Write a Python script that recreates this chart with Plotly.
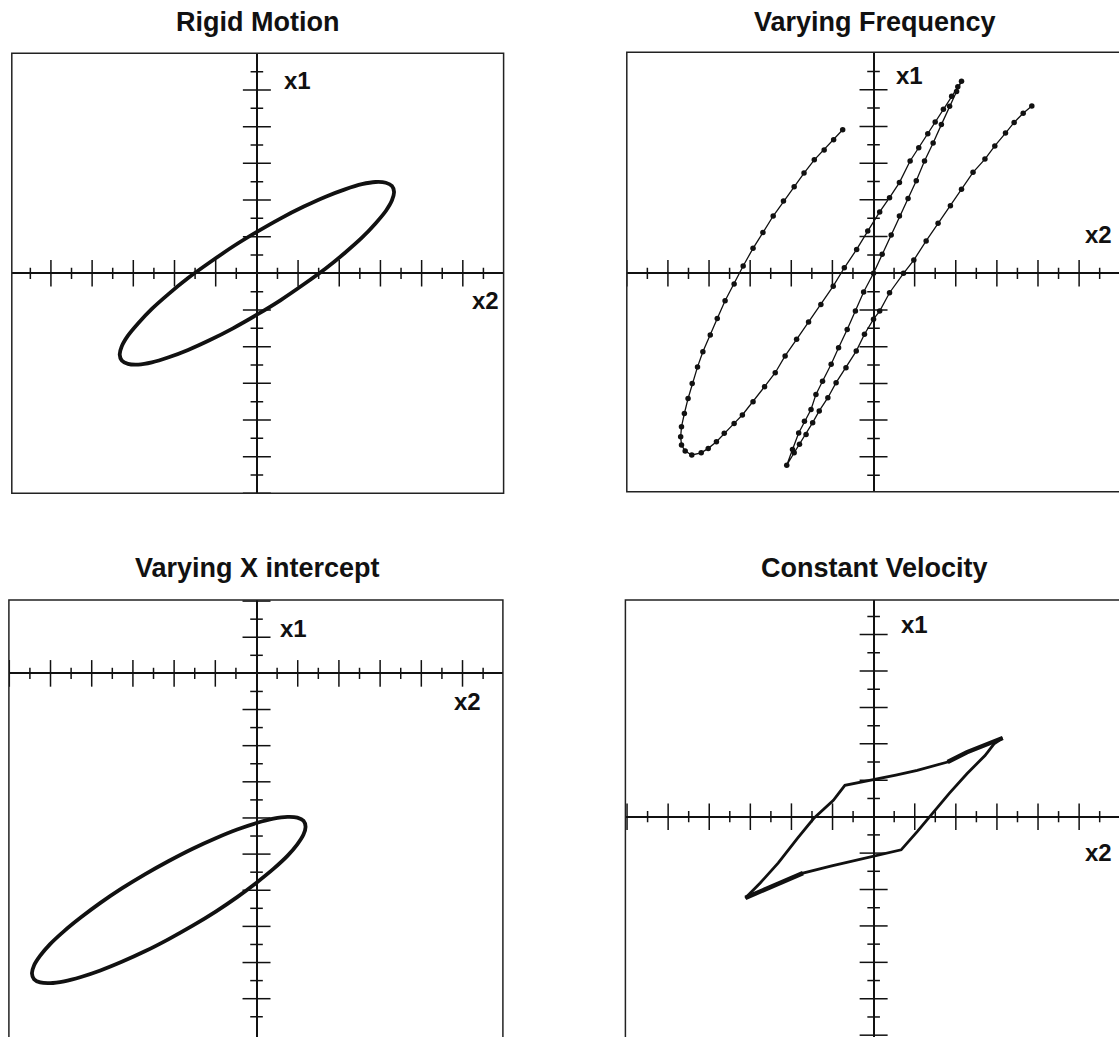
import plotly.graph_objects as go

# Phase plots: x2 on the horizontal axis, x1 on the vertical axis
titles = ["Rigid Motion", "Varying Frequency", "Varying X intercept", "Constant Velocity"]

# Rigid Motion - tilted ellipse centred on the origin
rigid_x2 = [3.33, 3.28, 3.13, 2.88, 2.55, 2.14, 1.67, 1.14, 0.58, 0.00, -0.58, -1.14,
            -1.67, -2.14, -2.55, -2.88, -3.13, -3.28, -3.33, -3.28, -3.13, -2.88, -2.55, -2.14,
            -1.67, -1.14, -0.58, 0.00, 0.58, 1.14, 1.67, 2.14, 2.55, 2.88, 3.13, 3.28, 3.33]
rigid_x1 = [2.22, 2.38, 2.47, 2.49, 2.43, 2.29, 2.09, 1.82, 1.50, 1.13, 0.73, 0.30,
            -0.13, -0.56, -0.97, -1.36, -1.70, -1.99, -2.22, -2.38, -2.47, -2.49, -2.43, -2.29,
            -2.09, -1.82, -1.50, -1.13, -0.73, -0.30, 0.13, 0.56, 0.97, 1.36, 1.70, 1.99, 2.22]

# Varying Frequency - left loop, line through the origin, right branch
freq_x2 = [-0.75, -0.97, -1.20, -1.44, -1.69, -1.93, -2.19, -2.44, -2.69, -2.93,
           -3.17, -3.39, -3.61, -3.80, -3.97, -4.15, -4.28, -4.41, -4.51, -4.60,
           -4.67, -4.69, -4.67, -4.58, -4.42, -4.19, -4.02, -3.82, -3.63, -3.39,
           -3.19, -2.93, -2.65, -2.39, -2.15, -1.87, -1.58, -1.28, -0.98, -0.71,
           -0.41, -0.14, 0.15, 0.39, 0.63, 0.89, 1.10, 1.32, 1.50, 1.70,
           1.90, 2.05, 2.14,
           2.02, 1.85, 1.65, 1.45, 1.24, 1.04, 0.84, 0.63, 0.43, 0.21,
           0.00, -0.24, -0.44, -0.64, -0.85, -1.03, -1.24, -1.40, -1.52, -1.68,
           -1.82, -1.97, -2.11,
           -1.93, -1.80, -1.64, -1.48, -1.32, -1.11, -0.91, -0.67, -0.42, -0.22,
           0.00, 0.15, 0.39, 0.73, 0.98, 1.28, 1.57, 1.87, 2.14, 2.42,
           2.71, 2.95, 3.21, 3.42, 3.64, 3.85]
freq_x1 = [3.91, 3.64, 3.36, 3.09, 2.73, 2.36, 1.97, 1.56, 1.11, 0.68,
           0.20, -0.29, -0.75, -1.23, -1.68, -2.14, -2.55, -3.00, -3.41, -3.82,
           -4.18, -4.45, -4.68, -4.84, -4.95, -4.89, -4.77, -4.59, -4.36, -4.09,
           -3.86, -3.50, -3.09, -2.71, -2.25, -1.80, -1.33, -0.85, -0.35, 0.15,
           0.65, 1.15, 1.67, 2.06, 2.47, 3.06, 3.42, 3.80, 4.12, 4.47,
           4.82, 5.08, 5.23,
           4.95, 4.55, 4.05, 3.55, 3.06, 2.52, 2.04, 1.56, 1.04, 0.52,
           0.00, -0.51, -1.03, -1.53, -2.03, -2.48, -2.94, -3.30, -3.71, -4.03,
           -4.35, -4.80, -5.23,
           -4.89, -4.66, -4.39, -4.07, -3.75, -3.39, -2.98, -2.57, -2.12, -1.66,
           -1.25, -1.03, -0.53, 0.00, 0.36, 0.88, 1.36, 1.84, 2.29, 2.75,
           3.11, 3.47, 3.82, 4.11, 4.36, 4.56]

# Varying X intercept - same ellipse shifted down and left
xint_x2 = [1.19, 1.14, 0.99, 0.75, 0.41, 0.00, -0.47, -0.99, -1.55, -2.13, -2.71, -3.27,
           -3.79, -4.26, -4.67, -5.01, -5.25, -5.40, -5.45, -5.40, -5.25, -5.01, -4.67, -4.26,
           -3.79, -3.27, -2.71, -2.13, -1.55, -0.99, -0.47, 0.00, 0.41, 0.75, 0.99, 1.14, 1.19]
xint_x1 = [-4.24, -4.08, -3.99, -3.97, -4.02, -4.14, -4.32, -4.56, -4.85, -5.19, -5.56, -5.95,
           -6.35, -6.75, -7.13, -7.49, -7.81, -8.08, -8.30, -8.46, -8.55, -8.57, -8.52, -8.40,
           -8.22, -7.98, -7.69, -7.35, -6.98, -6.59, -6.19, -5.79, -5.41, -5.05, -4.73, -4.46, -4.24]

# Constant Velocity - parallelogram-like loop
const_x2 = [3.14, 2.79, 2.27, 1.80, 1.06, 0.54, 0.00, -0.70, -0.98, -1.46, -1.85, -2.32, -2.76,
            -3.12, -2.76, -2.24, -1.72, -1.02, 0.00, 0.67, 1.06, 1.40, 1.84, 2.27, 2.71, 2.93, 3.14]
const_x1 = [2.16, 2.00, 1.77, 1.50, 1.27, 1.14, 1.02, 0.86, 0.45, -0.05, -0.59, -1.27, -1.82,
            -2.23, -2.05, -1.80, -1.55, -1.35, -1.09, -0.91, -0.41, 0.05, 0.64, 1.18, 1.68, 2.00, 2.16]

# axis tick positions (unit and half-unit marks)
major_ticks = [-9, -8, -7, -6, -5, -4, -3, -2, -1, 1, 2, 3, 4, 5]
minor_ticks = [-9.5, -8.5, -7.5, -6.5, -5.5, -4.5, -3.5, -2.5, -1.5, -0.5,
               0.5, 1.5, 2.5, 3.5, 4.5, 5.5]

W, H = 1119, 1037
INK = "#111111"
FONT = "Liberation Sans, Arial, Helvetica, sans-serif"

# plot boxes in pixels: left, top, right, bottom ; axis ranges
boxes = [
    dict(px=(11.8, 53.3, 503.6, 493.3), xr=[-5.95, 5.99], yr=[-6.0, 6.0], ext=(1.0, 0.0)),
    dict(px=(626.8, 52.3, 1119, 491.7), xr=[-6.0, 5.97], yr=[-5.95, 6.02], ext=(1.02, 0.0)),
    dict(px=(8.9, 600.0, 502.9, 1037), xr=[-6.01, 5.98], yr=[-10.06, 2.03], ext=(1.0, -0.03)),
    dict(px=(625.4, 600.0, 1119, 1037), xr=[-6.04, 5.97], yr=[-6.05, 5.95], ext=(1.02, -0.03)),
]

fig = go.Figure()
layout = {}
shapes = []
annotations = []

for i, b in enumerate(boxes):
    n = "" if i == 0 else str(i + 1)
    l, t, r, btm = b["px"]
    layout["xaxis" + n] = dict(domain=[l / W, r / W], range=b["xr"], anchor="y" + n,
                               showgrid=False, showticklabels=False, ticks="",
                               zeroline=True, zerolinecolor=INK, zerolinewidth=1.6,
                               showline=False)
    layout["yaxis" + n] = dict(domain=[1 - btm / H, 1 - t / H], range=b["yr"], anchor="x" + n,
                               showgrid=False, showticklabels=False, ticks="",
                               zeroline=True, zerolinecolor=INK, zerolinewidth=1.6,
                               showline=False)
    x1, y0 = b["ext"]
    shapes.append(dict(type="rect", xref="x" + n + " domain", yref="y" + n + " domain",
                       x0=0, x1=x1, y0=y0, y1=1, line=dict(color="#222222", width=1.5)))

    # tick marks crossing the two axes
    for ticks, size in [(major_ticks, 19), (minor_ticks, 8)]:
        fig.add_trace(go.Scatter(
            x=ticks, y=[0] * len(ticks), xaxis="x" + n, yaxis="y" + n, mode="markers",
            marker=dict(symbol="line-ns", size=size, line=dict(color=INK, width=1.5)),
            hoverinfo="skip", showlegend=False))
        fig.add_trace(go.Scatter(
            x=[0] * len(ticks), y=ticks, xaxis="x" + n, yaxis="y" + n, mode="markers",
            marker=dict(symbol="line-ew", size=size + 1, line=dict(color=INK, width=1.5)),
            hoverinfo="skip", showlegend=False))

# the four trajectories
fig.add_trace(go.Scatter(x=rigid_x2, y=rigid_x1, xaxis="x", yaxis="y", mode="lines",
                         line=dict(color=INK, width=3.8, shape="spline", smoothing=0.8),
                         showlegend=False))
fig.add_trace(go.Scatter(x=freq_x2, y=freq_x1, xaxis="x2", yaxis="y2", mode="lines+markers",
                         line=dict(color=INK, width=1.3),
                         marker=dict(color=INK, size=5.5), showlegend=False))
fig.add_trace(go.Scatter(x=xint_x2, y=xint_x1, xaxis="x3", yaxis="y3", mode="lines",
                         line=dict(color=INK, width=3.8, shape="spline", smoothing=0.8),
                         showlegend=False))
fig.add_trace(go.Scatter(x=const_x2, y=const_x1, xaxis="x4", yaxis="y4", mode="lines",
                         line=dict(color=INK, width=2.8), showlegend=False))
# doubled-back stretches of the constant velocity loop look heavier
for a, z in [(0, 4), (13, 17)]:
    fig.add_trace(go.Scatter(x=const_x2[a:z], y=const_x1[a:z], xaxis="x4", yaxis="y4",
                             mode="lines", line=dict(color=INK, width=4.4), showlegend=False))

# panel titles
title_pos = [(257.7, 22), (874.5, 22), (257.0, 568), (874.0, 568)]
for txt, (px, py) in zip(titles, title_pos):
    annotations.append(dict(text="<b>" + txt + "</b>", xref="paper", yref="paper",
                            x=px / W, y=1 - py / H, xanchor="center", yanchor="middle",
                            showarrow=False, font=dict(family=FONT, size=27, color=INK)))

# axis names
label_pos = [((0.98, 5.27), (5.56, -0.75)),
             ((0.88, 5.40), (5.46, 1.07)),
             ((0.89, 1.25), (5.13, -0.79)),
             ((1.00, 5.29), (5.48, -0.97))]
for i, (p1, p2) in enumerate(label_pos):
    n = "" if i == 0 else str(i + 1)
    for txt, (lx, ly) in [("x1", p1), ("x2", p2)]:
        annotations.append(dict(text="<b>" + txt + "</b>", xref="x" + n, yref="y" + n,
                                x=lx, y=ly, xanchor="center", yanchor="middle",
                                showarrow=False, font=dict(family=FONT, size=24, color=INK)))

fig.update_layout(
    width=W, height=H,
    margin=dict(l=0, r=0, t=0, b=0),
    paper_bgcolor="white", plot_bgcolor="white",
    showlegend=False,
    shapes=shapes, annotations=annotations,
    **layout,
)

# drop the browser's default page margin so the figure sits at the window corner
fig.write_html("out.html", config={"displayModeBar": False},
               post_script="document.body.style.margin='0px';")
